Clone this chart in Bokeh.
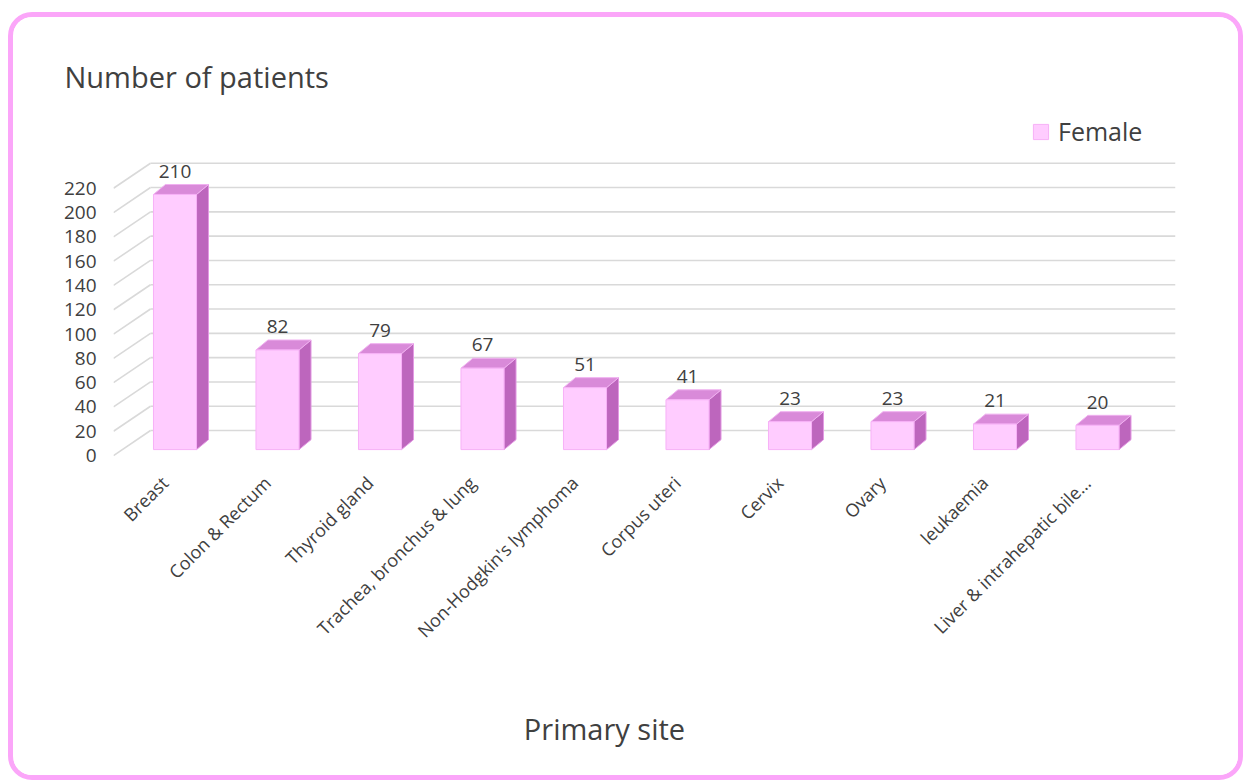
import math
from bokeh.plotting import figure
from bokeh.models import Range1d, FixedTicker, Legend, LegendItem
from bokeh.embed import file_html
from bokeh.resources import INLINE
from bokeh.core.properties import value

# ---- data ----
categories = ["Breast", "Colon & Rectum", "Thyroid gland", "Trachea, bronchus & lung",
              "Non-Hodgkin's lymphoma", "Corpus uteri", "Cervix", "Ovary", "leukaemia",
              "Liver & intrahepatic bile…"]
female = [210, 82, 79, 67, 51, 41, 23, 23, 21, 20]
y_ticks = [0, 20, 40, 60, 80, 100, 120, 140, 160, 180, 200, 220]
series_name = "Female"
title_text = "Number of patients"
x_title = "Primary site"

# ---- style constants (pseudo-3D geometry) ----
DEPTH_X, DEPTH_Y = 0.361, 20.6     # floor depth vector (category units, value units)
FRONT_DX, FRONT_DY = 0.10, 4.9     # bar front plane offset
BAR_W = 0.42
SIDE_X, SIDE_Y = 0.117, 8.2
FONT = "Open Sans"
TXT = "#404040"
GRID = "#D9D9D9"

W, H = 1235, 768
TOP_B, BOT_B = 93, 12
PX_PER_UNIT = 1.215
Y_END = 284
Y_START = Y_END - (H - TOP_B - BOT_B) / PX_PER_UNIT

p = figure(width=W, height=H, output_backend="svg", toolbar_location=None,
           x_range=Range1d(-0.5, 9.5 + DEPTH_X), y_range=Range1d(Y_START, Y_END),
           min_border_left=100, min_border_right=73, min_border_top=TOP_B, min_border_bottom=BOT_B)
p.outline_line_color = None
p.xgrid.visible = False
p.ygrid.visible = False
p.background_fill_color = "white"
p.border_fill_color = "white"
p.styles = {"border": "5px solid #FBA6F9", "border-radius": "24px", "overflow": "hidden",
            "margin-left": "8px", "margin-top": "12px"}

# gridlines: back wall + left diagonal
x_left = -0.5
x_right = 9.5 + DEPTH_X
p.segment(x0=[x_left + DEPTH_X] * len(y_ticks), y0=[v + DEPTH_Y for v in y_ticks],
          x1=[x_right] * len(y_ticks), y1=[v + DEPTH_Y for v in y_ticks],
          line_color=GRID, line_width=1.6)
p.segment(x0=[x_left] * len(y_ticks), y0=y_ticks,
          x1=[x_left + DEPTH_X] * len(y_ticks), y1=[v + DEPTH_Y for v in y_ticks],
          line_color=GRID, line_width=1.6)

# bars
idx = list(range(len(categories)))
lefts = [i + FRONT_DX - BAR_W / 2 for i in idx]
rights = [i + FRONT_DX + BAR_W / 2 for i in idx]
bottoms = [FRONT_DY] * len(idx)
tops = [v + FRONT_DY for v in female]

side_xs = [[r, r + SIDE_X, r + SIDE_X, r] for r in rights]
side_ys = [[b, b + SIDE_Y, t + SIDE_Y, t] for b, t in zip(bottoms, tops)]
top_xs = [[l, r, r + SIDE_X, l + SIDE_X] for l, r in zip(lefts, rights)]
top_ys = [[t, t, t + SIDE_Y, t + SIDE_Y] for t in tops]

p.patches(side_xs, side_ys, fill_color="#BD66BD", line_color="#E39AE3", line_width=1)
p.patches(top_xs, top_ys, fill_color="#D98AD9", line_color="#F0B0F0", line_width=1)
front = p.quad(left=lefts, right=rights, bottom=bottoms, top=tops,
               fill_color="#FFCCFF", line_color="#F7B0F7", line_width=1)

# data labels
p.text(x=[i + FRONT_DX for i in idx], y=[t + SIDE_Y + 5.6 for t in tops],
       text=[str(v) for v in female], text_align="center", text_baseline="bottom",
       text_font=value(FONT), text_font_size="19px", text_color=TXT)

# axes
p.yaxis.ticker = FixedTicker(ticks=y_ticks)
p.yaxis.axis_line_color = None
p.yaxis.major_tick_line_color = None
p.yaxis.minor_tick_line_color = None
p.yaxis.major_label_standoff = 11
p.yaxis.major_label_text_font = FONT
p.yaxis.major_label_text_font_size = "19px"
p.yaxis.major_label_text_color = TXT

p.xaxis.fixed_location = 0
p.xaxis.ticker = FixedTicker(ticks=idx)
p.xaxis.major_label_overrides = {i: c for i, c in zip(idx, categories)}
p.xaxis.major_label_orientation = math.pi / 4
p.xaxis.axis_line_color = None
p.xaxis.major_tick_line_color = None
p.xaxis.minor_tick_line_color = None
p.xaxis.major_label_standoff = 18
p.xaxis.major_label_text_font = FONT
p.xaxis.major_label_text_font_size = "18px"
p.xaxis.major_label_text_color = TXT

# title
p.title.text = title_text
p.title.text_font = FONT
p.title.text_font_size = "29px"
p.title.text_font_style = "normal"
p.title.text_color = TXT
p.title.align = "left"
p.title.offset = -49
p.title.standoff = 29

# x-axis title (placed in data space below the category labels)
p.text(x=[4.29], y=[-224.7], text=[x_title], text_align="center", text_baseline="middle",
       text_font=value(FONT), text_font_size="29px", text_color=TXT)

# legend
legend = Legend(items=[LegendItem(label=series_name, renderers=[front])],
                location=(918, 625), padding=0, margin=0, border_line_color=None,
                background_fill_alpha=0, glyph_width=19, glyph_height=19, label_standoff=8,
                label_text_font=FONT, label_text_font_size="25px", label_text_color=TXT)
p.add_layout(legend)

open("out.html", "w").write(file_html(p, INLINE))
